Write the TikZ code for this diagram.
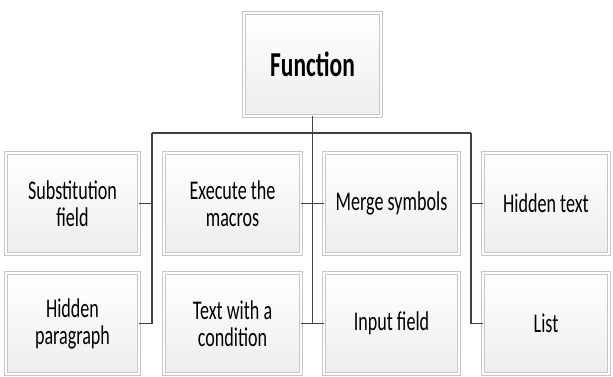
\documentclass[tikz,border=0pt]{standalone}
\usepackage{fontspec}
\setmainfont{Carlito}
\newfontfamily\boxfont[FakeStretch=0.67]{Carlito}

\begin{document}
\begin{tikzpicture}[x=1pt, y=-1pt,
    box/.style={draw=gray!45, double=white, double distance=1.6pt, line width=0.9pt,
                top color=white, bottom color=gray!14, align=center, inner sep=2pt,
                minimum height=101pt, font=\boxfont\fontsize{27}{27}\selectfont},
    link/.style={draw=black!75, line width=1.3pt}]
                \useasboundingbox (0, 0) rectangle (613, 376);
                \node [box, minimum width=137pt, minimum height=103pt, font=\boxfont\fontsize{35}{36}\selectfont\bfseries] (fn) at (312.5, 64.5) {Function};
                \node [box, minimum width=133pt] (sub) at (72.5, 203.5) {Substitution\\field};
                \node [box, minimum width=137pt] (exe) at (232.5, 203.5) {Execute the\\macros};
                \node [box, minimum width=135pt] (mrg) at (391.5, 203.5) {Merge symbols};
                \node [box, minimum width=126pt] (hid) at (546, 203.5) {Hidden text};
                \node [box, minimum width=133pt] (hpar) at (72.5, 323.5) {Hidden\\paragraph};
                \node [box, minimum width=137pt] (cond) at (232.5, 323.5) {Text with a\\condition};
                \node [box, minimum width=135pt] (inp) at (391.5, 323.5) {Input field};
                \node [box, minimum width=126pt] (list) at (546, 323.5) {List};
                \coordinate (jA) at (152, 133);
                \coordinate (jB) at (fn.south |- jA);
                \coordinate (jC) at (471, 133);
                \draw [link] (fn.south) -- (jB);
                \draw [link] (jA) -- (jC);
                \draw [link] (jA) |- (hpar.east);
                \draw [link] (sub.east) -- (sub.east -| jA);
                \draw [link] (jB) |- (cond.east);
                \draw [link] (jB |- cond.east) -- (inp.west);
                \draw [link] (exe.east) -- (mrg.west);
                \draw [link] (jC) |- (list.west);
                \draw [link] (hid.west) -- (hid.west -| jC);
            \end{tikzpicture}
\end{document}
